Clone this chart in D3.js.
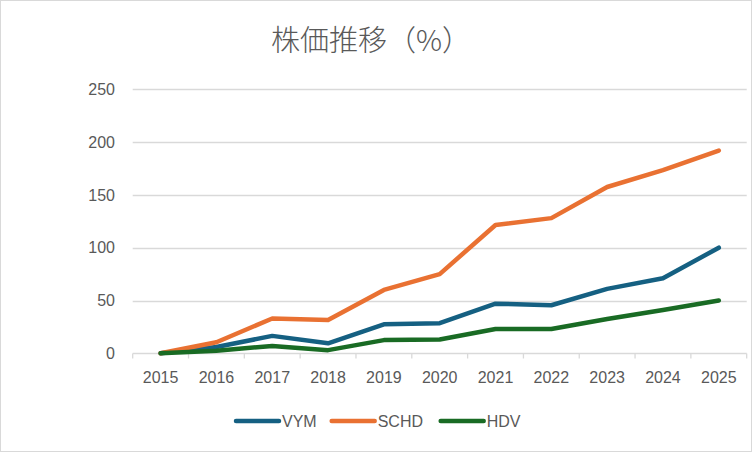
<!DOCTYPE html>
<html>
<head>
<meta charset="utf-8">
<script src="https://cdn.jsdelivr.net/npm/d3@7"></script>
<style>
  body { margin: 0; background: #fff; }
  text { font-family: "Liberation Sans", Arial, sans-serif; fill: #595959; }
</style>
</head>
<body>
<div id="chart-area"></div>
<script>
// data
var years = ["2015","2016","2017","2018","2019","2020","2021","2022","2023","2024","2025"]
var vym  = [0, 6, 16.5, 9.5, 27.5, 28.5, 47, 45.5, 61, 71, 100]
var schd = [0, 10.5, 33, 31.5, 60, 75, 121.5, 128, 157.5, 173.5, 192]
var hdv  = [0, 2.5, 7, 3, 12.5, 13, 23, 23, 32.5, 41, 50]
var yTicks = [0, 50, 100, 150, 200, 250]

var series = [
    { name: "VYM",  values: vym,  color: "#156082" },
    { name: "SCHD", values: schd, color: "#E97132" },
    { name: "HDV",  values: hdv,  color: "#196B24" }
]

var W = 752, H = 452
var margin = { left: 132.7, right: 5.3, top: 89.3, bottom: 98.7 }

var svg = d3.select("#chart-area").append("svg")
    .attr("width", W)
    .attr("height", H)

// chart border
svg.append("rect")
    .attr("x", 0.5).attr("y", 0.5)
    .attr("width", W - 1).attr("height", H - 1)
    .attr("fill", "#fff")
    .attr("stroke", "#d9d9d9")

svg.append("text")
    .attr("x", 371)
    .attr("y", 51)
    .attr("text-anchor", "middle")
    .style("font-family", "'Noto Sans CJK JP', sans-serif")
    .style("font-size", "29px")
    .style("font-weight", 300)
    .text("株価推移（%）")

var x = d3.scaleBand()
    .domain(years)
    .range([margin.left, W - margin.right])

var y = d3.scaleLinear()
    .domain([0, 250])
    .range([H - margin.bottom, margin.top])

// gridlines
svg.selectAll(".grid")
    .data(yTicks)
    .enter()
    .append("line")
    .attr("x1", margin.left)
    .attr("x2", W - margin.right)
    .attr("y1", function(d){ return Math.round(y(d)) + 0.5 })
    .attr("y2", function(d){ return Math.round(y(d)) + 0.5 })
    .attr("stroke", "#d9d9d9")
    .attr("stroke-width", 1.3)

// y labels
svg.selectAll(".ylab")
    .data(yTicks)
    .enter()
    .append("text")
    .attr("x", 115)
    .attr("y", function(d){ return y(d) })
    .attr("dy", "0.35em")
    .attr("text-anchor", "end")
    .style("font-size", "16px")
    .text(function(d){ return d })

// x axis
var xAxis = d3.axisBottom(x).tickSize(0).tickPadding(0)
var gx = svg.append("g")
    .attr("transform", "translate(0," + (Math.round(y(0)) + 0.5) + ")")
    .call(xAxis)
gx.select(".domain").remove()
gx.selectAll("text")
    .attr("y", 29.5)
    .attr("dy", 0)
    .style("font-size", "16px")
    .style("font-family", "'Liberation Sans', Arial, sans-serif")
    .attr("fill", "#595959")

// tick marks at category boundaries
var bounds = years.map(function(d){ return x(d) }).concat([W - margin.right])
gx.selectAll(".tk")
    .data(bounds)
    .enter()
    .append("line")
    .attr("x1", function(d){ return d })
    .attr("x2", function(d){ return d })
    .attr("y1", 0)
    .attr("y2", 5)
    .attr("stroke", "#d9d9d9")
    .attr("stroke-width", 1.3)

var line = d3.line()
    .x(function(d, i){ return x(years[i]) + x.bandwidth() / 2 })
    .y(function(d){ return y(d) })

svg.selectAll(".series")
    .data(series)
    .enter()
    .append("path")
    .attr("d", function(d){ return line(d.values) })
    .attr("fill", "none")
    .attr("stroke", function(d){ return d.color })
    .attr("stroke-width", 4.5)
    .attr("stroke-linecap", "round")
    .attr("stroke-linejoin", "round")

// legend
var legendX = [236, 331.7, 440.7]
var lg = svg.selectAll(".legend")
    .data(series)
    .enter()
    .append("g")
    .attr("transform", function(d, i){ return "translate(" + legendX[i] + ",421)" })

lg.append("line")
    .attr("x1", 0).attr("x2", 43)
    .attr("y1", 0).attr("y2", 0)
    .attr("stroke", function(d){ return d.color })
    .attr("stroke-width", 4.5)
    .attr("stroke-linecap", "round")

lg.append("text")
    .attr("x", 46)
    .attr("y", 0)
    .attr("dy", "0.36em")
    .style("font-size", "16px")
    .text(function(d){ return d.name })
</script>
</body>
</html>
